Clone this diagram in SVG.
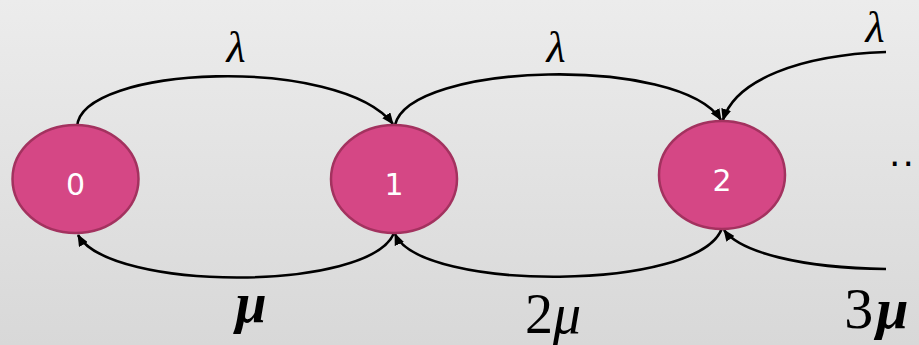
<svg xmlns="http://www.w3.org/2000/svg" width="919" height="345" viewBox="0 0 919 345">
<defs>
<linearGradient id="bg" x1="0" y1="0" x2="0" y2="1">
<stop offset="0" stop-color="#ececec"/>
<stop offset="1" stop-color="#d8d8d8"/>
</linearGradient>
<marker id="ah" viewBox="0 0 12 10" refX="11" refY="5" markerWidth="12" markerHeight="10" markerUnits="userSpaceOnUse" orient="auto">
<path d="M0,0 L12,5 L0,10 Z" fill="#000"/>
</marker>
<style>
.node{fill:#d54785;stroke:#a3325f;stroke-width:2.5}
.nl{font-family:"DejaVu Sans",sans-serif;font-size:30px;fill:#fff;text-anchor:middle}
.edge{fill:none;stroke:#000;stroke-width:2.6;marker-end:url(#ah)}
.lab{font-family:"Liberation Serif",serif;font-style:italic;fill:#000;text-anchor:middle}
</style>
</defs>
<rect width="919" height="345" fill="url(#bg)"/>
<g id="connectors">
<path class="edge" d="M77,127 C80,65 340,55 393,124"/>
<path class="edge" d="M395,125 C410,62 680,55 721,120"/>
<path class="edge" d="M886,52 C800,55 735,80 723,120"/>
<path class="edge" d="M394,233 C370,292 110,292 78,235"/>
<path class="edge" d="M722,228 C700,292 420,292 395,234"/>
<path class="edge" d="M886,269 C800,268 740,252 724,230"/>
</g>
<g id="node0"><ellipse class="node" cx="75.5" cy="179" rx="63" ry="54"/><text class="nl" x="75.5" y="195">0</text></g>
<g id="node1"><ellipse class="node" cx="394" cy="179" rx="63" ry="54"/><text class="nl" x="394" y="195">1</text></g>
<g id="node2"><ellipse class="node" cx="722" cy="175" rx="63" ry="54"/><text class="nl" x="722" y="191">2</text></g>
<g id="labels">
<text class="lab" x="236" y="62" font-size="44">λ</text>
<text class="lab" x="556" y="62" font-size="44">λ</text>
<text class="lab" x="875" y="42" font-size="44">λ</text>
<text class="lab" x="251" y="322" font-size="56" font-weight="bold">μ</text>
<text class="lab" x="553" y="333" font-size="56"><tspan font-style="normal">2</tspan>μ</text>
<text class="lab" x="878" y="328" font-size="58" letter-spacing="3"><tspan font-style="normal">3</tspan><tspan font-weight="bold">μ</tspan></text>
<text x="889" y="166" font-family="DejaVu Sans,sans-serif" font-size="36" letter-spacing="2" fill="#000">...</text>
</g>
</svg>
